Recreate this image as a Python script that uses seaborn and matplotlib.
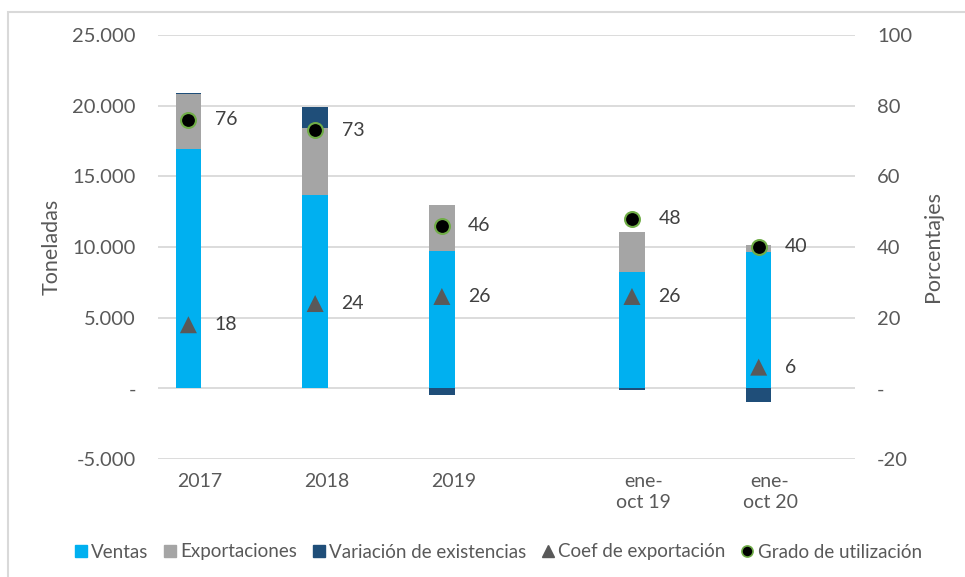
import numpy as np
import pandas as pd
import matplotlib.pyplot as plt
import matplotlib.ticker as mticker
from matplotlib.lines import Line2D
from matplotlib.patches import Rectangle
import seaborn as sns

# Data
periods = ["2017", "2018", "2019", "ene-\noct 19", "ene-\noct 20"]
ventas = [16950, 13700, 9700, 8200, 9650]
exportaciones = [3850, 4750, 3300, 2850, 480]
variacion = [100, 1450, -450, -150, -1000]
coef_export = [18, 24, 26, 26, 6]
grado_util = [76, 73, 46, 48, 40]

# layout: slot of each period on the x axis (gap before the jan-oct block)
slot = [0, 1, 2, 3.5, 4.5]

c_ventas = "#00B0F0"
c_export = "#A5A5A5"
c_var = "#1F4E79"
c_coef = "#595959"
c_text = "#595959"

df = pd.DataFrame({"pos": slot, "ventas": ventas, "exp": exportaciones, "var": variacion})
df["var_pos"] = df["var"].clip(lower=0)
df["var_neg"] = df["var"].clip(upper=0)
df["lvl2"] = df["ventas"] + df["exp"]
df["lvl3"] = df["lvl2"] + df["var_pos"]

sns.set_style("white")
plt.rcParams["font.family"] = ["Lato", "DejaVu Sans"]

fig = plt.figure(figsize=(9.65, 5.77), dpi=100)
ax = fig.add_axes([158 / 965, 1 - 459 / 577, 697 / 965, 424 / 577])

# stacked bars drawn as overlapping cumulative totals
bar_kw = dict(x="pos", native_scale=True, width=0.2, saturation=1,
              errorbar=None, linewidth=0, ax=ax)
sns.barplot(data=df, y="lvl3", color=c_var, **bar_kw)
sns.barplot(data=df, y="lvl2", color=c_export, **bar_kw)
sns.barplot(data=df, y="ventas", color=c_ventas, **bar_kw)
sns.barplot(data=df, y="var_neg", color=c_var, **bar_kw)

ax.set_ylim(-5000, 25000)
ax.set_xlim(-0.24, 5.26)
ax.set_yticks(range(-5000, 25001, 5000))
ax.yaxis.set_major_formatter(mticker.FuncFormatter(
    lambda v, _: "-" if v == 0 else f"{v:,.0f}".replace(",", ".")))
ax.set_axisbelow(True)
ax.yaxis.grid(True, color="#D9D9D9", lw=1.3)
ax.xaxis.grid(False)
ax.tick_params(axis="y", length=0, pad=16, labelsize=14.5, labelcolor=c_text)
ax.set_xticks(np.array(slot) + 0.09)
ax.set_xticklabels(periods)
ax.tick_params(axis="x", length=0, pad=10, labelsize=14, labelcolor=c_text)
for lbl in ax.get_xticklabels():
    lbl.set_linespacing(1.3)
ax.set_xlabel("")
ax.set_ylabel("Toneladas", fontsize=15.5, color=c_text, labelpad=8)
for s in ax.spines.values():
    s.set_visible(False)

# percentages on the right axis
ax2 = ax.twinx()
sns.scatterplot(x=slot, y=coef_export, marker="^", s=150, color=c_coef,
                edgecolor="none", ax=ax2, legend=False, zorder=5)
sns.scatterplot(x=slot, y=grado_util, marker="o", s=115, color="black",
                edgecolor="#70AD47", linewidth=1.5, ax=ax2, legend=False, zorder=5)
for x, v in zip(slot, coef_export):
    ax2.annotate(str(v), (x, v), xytext=(19, 0), textcoords="offset points",
                 ha="left", va="center", fontsize=14, color="#404040")
for x, v in zip(slot, grado_util):
    ax2.annotate(str(v), (x, v), xytext=(19, 0), textcoords="offset points",
                 ha="left", va="center", fontsize=14, color="#404040")
ax2.set_ylim(-20, 100)
ax2.set_yticks(range(-20, 101, 20))
ax2.yaxis.set_major_formatter(mticker.FuncFormatter(
    lambda v, _: "-" if v == 0 else f"{v:.0f}"))
ax2.tick_params(axis="y", length=0, pad=16, labelsize=14.5, labelcolor=c_text)
ax2.set_ylabel("Porcentajes", fontsize=15.5, color=c_text, labelpad=8)
ax2.grid(False)
for s in ax2.spines.values():
    s.set_visible(False)

handles = [
    Line2D([], [], ls="", marker="s", ms=8, color=c_ventas),
    Line2D([], [], ls="", marker="s", ms=8, color=c_export),
    Line2D([], [], ls="", marker="s", ms=8, color=c_var),
    Line2D([], [], ls="", marker="^", ms=8, color=c_coef),
    Line2D([], [], ls="", marker="o", ms=8, mfc="black", mec="#70AD47", mew=1.2),
]
labels = ["Ventas", "Exportaciones", "Variación de existencias",
          "Coef de exportación", "Grado de utilización"]
fig.legend(handles, labels, loc="center", bbox_to_anchor=(0.516, 1 - 552 / 577),
           ncol=5, frameon=False, fontsize=13.5, handlelength=0.7,
           handletextpad=0.2, columnspacing=0.8, labelcolor=c_text)

# light frame of the chart area
fig.patches.append(Rectangle((8 / 965, -0.1), 1.2, 1 - 12 / 577 + 0.1,
                             transform=fig.transFigure, fill=False,
                             edgecolor="#D9D9D9", lw=1.5))

fig.savefig("out.png", dpi=100)
